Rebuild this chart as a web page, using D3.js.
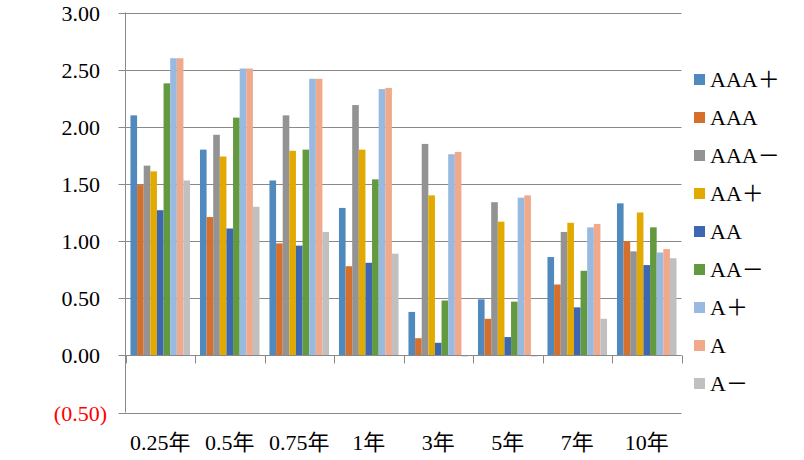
<!DOCTYPE html>
<html><head><meta charset="utf-8">
<script src="https://cdn.jsdelivr.net/npm/d3@7"></script>
<style>
html,body{margin:0;padding:0;background:#fff;}
svg{display:block;}
</style></head>
<body>
<script>
const categories = ["0.25年","0.5年","0.75年","1年","3年","5年","7年","10年"];
const seriesNames = ["AAA＋","AAA","AAA－","AA＋","AA","AA－","A＋","A","A－"];
const seriesColors = ["#4F89BD","#D5702C","#939393","#E2AA00","#3D67B0","#63993F","#99BAE0","#F0A98B","#C0C0C0"];
const sAAAp = [2.10,1.80,1.53,1.29,0.38,0.49,0.86,1.33];
const sAAA  = [1.49,1.21,0.98,0.78,0.15,0.32,0.62,1.00];
const sAAAm = [1.66,1.93,2.10,2.19,1.85,1.34,1.08,0.91];
const sAAp  = [1.61,1.74,1.79,1.80,1.40,1.17,1.16,1.25];
const sAA   = [1.27,1.11,0.96,0.81,0.11,0.16,0.42,0.79];
const sAAm  = [2.38,2.08,1.80,1.54,0.48,0.47,0.74,1.12];
const sAp   = [2.60,2.51,2.42,2.33,1.76,1.38,1.12,0.90];
const sA    = [2.60,2.51,2.42,2.34,1.78,1.40,1.15,0.93];
const sAm   = [1.53,1.30,1.08,0.89,-0.01,-0.01,0.32,0.85];
const seriesValues = [sAAAp,sAAA,sAAAm,sAAp,sAA,sAAm,sAp,sA,sAm];
const yTicks = [-0.5,0,0.5,1,1.5,2,2.5,3];

(function(){
const W=804,H=460;
const svg=d3.select("body").append("svg").attr("width",W).attr("height",H);
const pL=125.5,pR=681.5,pT=12.5,pB=412.5;
const serif="'Liberation Serif', 'Noto Sans CJK SC', serif";

const x=d3.scaleBand().domain(categories).range([pL,pR]).paddingInner(0).paddingOuter(0);
const xi=d3.scaleBand().domain(d3.range(seriesNames.length)).range([0,x.bandwidth()]).paddingInner(0).paddingOuter(0.75);
const y=d3.scaleLinear().domain([-0.5,3]).range([pB,pT]);

const grid="#898989";
svg.append("g").selectAll("line").data(yTicks).join("line")
  .attr("x1",pL-7).attr("x2",pR).attr("y1",d=>Math.round(y(d))+0.5).attr("y2",d=>Math.round(y(d))+0.5)
  .attr("stroke",grid).attr("stroke-width",1);

const g=svg.append("g");
seriesValues.forEach((vals,si)=>{
  g.append("g").selectAll("rect").data(vals).join("rect")
    .attr("x",(d,i)=>x(categories[i])+xi(si))
    .attr("width",xi.bandwidth())
    .attr("y",d=>Math.min(y(d),y(0)))
    .attr("height",d=>Math.abs(y(d)-y(0)))
    .attr("fill",seriesColors[si]);
});

const y0=Math.round(y(0))+0.5;
svg.append("line").attr("x1",pL).attr("x2",pR).attr("y1",y0).attr("y2",y0).attr("stroke",grid);
svg.append("g").selectAll("line").data(categories.concat(["_end"])).join("line")
  .attr("x1",d=>Math.round(d==="_end"?pR:x(d))+0.5).attr("x2",d=>Math.round(d==="_end"?pR:x(d))+0.5)
  .attr("y1",y0).attr("y2",y0+8).attr("stroke",grid);
svg.append("line").attr("x1",pL).attr("x2",pL).attr("y1",pT).attr("y2",pB).attr("stroke",grid);

svg.append("g").selectAll("text").data(yTicks).join("text")
  .attr("x",d=>d<0?107:100).attr("y",d=>y(d)).attr("dy","0.37em")
  .attr("text-anchor","end").style("font-family",serif).style("font-size","22px")
  .attr("fill",d=>d<0?"#FF0000":"#000")
  .text(d=>d<0?"("+d3.format(".2f")(-d)+")":d3.format(".2f")(d));

svg.append("g").selectAll("text").data(categories).join("text")
  .attr("x",d=>x(d)+x.bandwidth()/2).attr("y",449.5)
  .attr("text-anchor","middle").style("font-family",serif).style("font-size","22px")
  .attr("fill","#000").text(d=>d);

const lg=svg.append("g");
seriesNames.forEach((n,i)=>{
  const cy=79+i*38;
  lg.append("rect").attr("x",694).attr("y",cy-5).attr("width",11).attr("height",11).attr("fill",seriesColors[i]);
  lg.append("text").attr("x",710).attr("y",cy).attr("dy","0.35em")
    .style("font-family",serif).style("font-size","22px").attr("fill","#000").text(n);
});
})();
</script>
</body></html>
